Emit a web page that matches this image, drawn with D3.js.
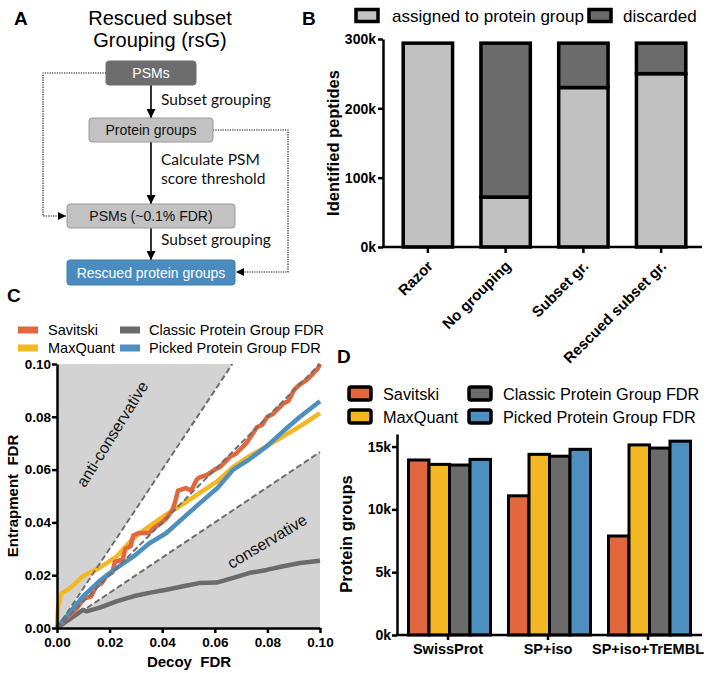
<!DOCTYPE html>
<html><head><meta charset="utf-8">
<script src="https://cdn.jsdelivr.net/npm/d3@7"></script>
<style>
html,body{margin:0;padding:0;background:#fff;}
svg{display:block;}
text{font-family:"Liberation Sans",Arial,sans-serif;}
</style></head><body>
<svg id="fig" width="714" height="673"></svg>
<script>
// ---------- DATA ----------
// Panel A (flowchart)
const flowBoxes = ["PSMs", "Protein groups", "PSMs (~0.1% FDR)", "Rescued protein groups"];
const flowSteps = [["Subset grouping"], ["Calculate PSM", "score threshold"], ["Subset grouping"]];

// Panel B
const bCategories = ["Razor", "No grouping", "Subset gr.", "Rescued subset gr."];
const bAssigned = [294, 72, 230, 250];      // thousands
const bDiscarded = [0, 222, 64, 44];        // thousands
const bTicks = [0, 100, 200, 300];
const bLegend = ["assigned to protein group", "discarded"];

// Panel C (decoy FDR, entrapment FDR)
const cSeries = ["Savitski", "MaxQuant", "Classic Protein Group FDR", "Picked Protein Group FDR"];
const savitski = [[0,0],[0.004,0.004],[0.008,0.008],[0.01,0.011],[0.013,0.012],[0.015,0.016],[0.017,0.017],[0.019,0.02],[0.021,0.021],[0.022,0.025],[0.025,0.026],[0.026,0.03],[0.028,0.031],[0.029,0.035],[0.031,0.036],[0.035,0.036],[0.037,0.038],[0.04,0.04],[0.042,0.042],[0.044,0.045],[0.045,0.048],[0.046,0.052],[0.049,0.053],[0.051,0.052],[0.053,0.056],[0.054,0.057],[0.057,0.058],[0.06,0.06],[0.062,0.061],[0.064,0.063],[0.066,0.065],[0.068,0.066],[0.07,0.068],[0.072,0.07],[0.074,0.073],[0.076,0.076],[0.078,0.077],[0.08,0.08],[0.082,0.081],[0.084,0.083],[0.086,0.085],[0.088,0.086],[0.09,0.09],[0.092,0.092],[0.095,0.094],[0.097,0.096],[0.099,0.098],[0.1,0.1]];
const maxquant = [[0,0],[0.0004,0.008],[0.0016,0.013],[0.0048,0.015],[0.0099,0.0196],[0.016,0.0227],[0.0226,0.027],[0.029,0.034],[0.035,0.0385],[0.0416,0.043],[0.048,0.047],[0.054,0.051],[0.061,0.0556],[0.067,0.061],[0.073,0.065],[0.0797,0.0688],[0.086,0.0726],[0.0924,0.0764],[0.1,0.0814]];
const classic = [[0,0],[0.0099,0.0069],[0.0112,0.0063],[0.016,0.0076],[0.0226,0.0101],[0.029,0.012],[0.035,0.0133],[0.0416,0.0145],[0.048,0.0158],[0.054,0.017],[0.0607,0.0172],[0.067,0.019],[0.073,0.0208],[0.0797,0.022],[0.086,0.0234],[0.0924,0.0246],[0.1,0.0255]];
const picked = [[0,0],[0.0099,0.012],[0.016,0.0177],[0.0226,0.0227],[0.029,0.027],[0.035,0.032],[0.0416,0.036],[0.048,0.0417],[0.054,0.047],[0.061,0.053],[0.067,0.06],[0.073,0.0638],[0.0797,0.0688],[0.086,0.0745],[0.0924,0.080],[0.1,0.0859]];
const cTicks = [0, 0.02, 0.04, 0.06, 0.08, 0.10];
const refSlopes = [1.5, 1, 1/1.5];

// Panel D (thousands of protein groups)
const dGroups = ["SwissProt", "SP+iso", "SP+iso+TrEMBL"];
const dSavitski = [14.05, 11.2, 8.0];
const dMaxQuant = [13.7, 14.5, 15.25];
const dClassic = [13.65, 14.35, 15.0];
const dPicked = [14.1, 14.9, 15.55];
const dTicks = [0, 5, 10, 15];

// ---------- STYLE ----------
const SANS = "'Liberation Sans',Arial,sans-serif";
const COL = {sav:"#e2673e", mq:"#f3b723", cls:"#6b6b6b", pick:"#4d8fbe"};
const svg = d3.select("#fig");
svg.append("rect").attr("width",714).attr("height",673).attr("fill","#fff");
const BOLD = 700;

function panelLabel(t,x,y){ svg.append("text").attr("x",x).attr("y",y).attr("font-size",19).attr("font-weight",BOLD).style("font-family",SANS).text(t); }

// ================= PANEL A =================
(function(){
  panelLabel("A", 14, 25);
  const g = svg.append("g");
  g.append("text").attr("x",160).attr("y",25).attr("text-anchor","middle").attr("font-size",20).style("font-family",SANS).text("Rescued subset");
  g.append("text").attr("x",160).attr("y",46.5).attr("text-anchor","middle").attr("font-size",20).style("font-family",SANS).text("Grouping (rsG)");

  const boxes = [
    {x0:106,x1:196,y0:61,y1:85,fill:"#6d6d6d",stroke:"#6d6d6d",tc:"#fff"},
    {x0:89,x1:213,y0:118,y1:142,fill:"#c2c2c2",stroke:"#9a9a9a",tc:"#111"},
    {x0:67,x1:235,y0:204,y1:228,fill:"#c2c2c2",stroke:"#9a9a9a",tc:"#111"},
    {x0:67,x1:235,y0:260,y1:285,fill:"#4a8cbf",stroke:"#3f7eae",tc:"#fff"}
  ];
  const defs = svg.append("defs");
  defs.append("marker").attr("id","ah").attr("viewBox","0 0 10 10").attr("refX",10).attr("refY",5)
    .attr("markerWidth",9).attr("markerHeight",9).attr("markerUnits","userSpaceOnUse").attr("orient","auto")
    .append("path").attr("d","M0,0L10,5L0,10Z").attr("fill","#000");
  defs.append("marker").attr("id","ahs").attr("viewBox","0 0 10 10").attr("refX",10).attr("refY",5)
    .attr("markerWidth",8).attr("markerHeight",8).attr("markerUnits","userSpaceOnUse").attr("orient","auto")
    .append("path").attr("d","M0,0L10,5L0,10Z").attr("fill","#000");

  for(let i=0;i<3;i++){
    g.append("line").attr("x1",151).attr("x2",151).attr("y1",boxes[i].y1).attr("y2",boxes[i+1].y0)
      .attr("stroke","#000").attr("stroke-width",1.6).attr("marker-end","url(#ah)");
  }
  const stepY = [[105],[165,184],[245]];
  flowSteps.forEach((lines,i)=>lines.forEach((t,j)=>{
    g.append("text").attr("x",161).attr("y",stepY[i][j]).attr("font-size",15.5)
      .style("font-family","Lato, 'Open Sans', sans-serif").attr("fill","#111").text(t);
  }));
  g.append("path").attr("d","M106,73H43V216H66").attr("fill","none").attr("stroke","#000")
    .attr("stroke-width",1.1).attr("stroke-dasharray","1.2,1.2").attr("marker-end","url(#ahs)");
  g.append("path").attr("d","M213,130H288V272H236").attr("fill","none").attr("stroke","#000")
    .attr("stroke-width",1.1).attr("stroke-dasharray","1.2,1.2").attr("marker-end","url(#ahs)");

  boxes.forEach((b,i)=>{
    g.append("rect").attr("x",b.x0).attr("y",b.y0).attr("width",b.x1-b.x0).attr("height",b.y1-b.y0)
      .attr("rx",3).attr("fill",b.fill).attr("stroke",b.stroke).attr("stroke-width",1);
    g.append("text").attr("x",(b.x0+b.x1)/2).attr("y",(b.y0+b.y1)/2+5).attr("text-anchor","middle")
      .attr("font-size",14).attr("fill",b.tc).style("font-family",SANS).text(flowBoxes[i]);
  });
})();

// ================= PANEL B =================
(function(){
  panelLabel("B", 302, 25);
  const g = svg.append("g");
  const x = d3.scaleBand().domain(bCategories).range([389,700]).paddingInner(0.32).paddingOuter(0.16);
  const y = d3.scaleLinear().domain([0,300]).range([247,39]);
  bCategories.forEach((c,i)=>{
    const a = bAssigned[i], d = bDiscarded[i];
    g.append("rect").attr("x",x(c)+1.75).attr("width",x.bandwidth()-3.5)
      .attr("y",y(a)).attr("height",y(0)-y(a)).attr("fill","#c1c1c1").attr("stroke","#000").attr("stroke-width",3.5);
    if(d>0) g.append("rect").attr("x",x(c)+1.75).attr("width",x.bandwidth()-3.5)
      .attr("y",y(a+d)).attr("height",y(a)-y(a+d)).attr("fill","#6b6b6b").attr("stroke","#000").attr("stroke-width",3.5);
  });
  const ya = g.append("g").attr("transform","translate(383,0)")
    .call(d3.axisLeft(y).tickValues(bTicks).tickFormat(d=>d+"k").tickSize(5).tickSizeOuter(0));
  ya.select(".domain").attr("stroke-width",2.5);
  ya.selectAll(".tick line").attr("stroke-width",2.5);
  ya.selectAll("text").attr("font-size",14).attr("font-weight",BOLD).attr("fill","#000").attr("x",-7).attr("dy","0.35em")
    .style("font-family",SANS);
  const xa = g.append("g").attr("transform","translate(0,247)")
    .call(d3.axisBottom(x).tickSize(6).tickSizeOuter(0));
  xa.select(".domain").remove();
  g.append("line").attr("x1",382).attr("x2",702).attr("y1",247).attr("y2",247).attr("stroke","#000").attr("stroke-width",2.5);
  xa.selectAll(".tick line").attr("stroke-width",2.5);
  xa.selectAll("text").attr("font-size",15).attr("font-weight",BOLD).attr("fill","#000")
    .style("font-family",SANS)
    .attr("text-anchor","end").attr("dy",0).attr("y",0)
    .attr("transform","translate(6,20) rotate(-45)");
  g.append("text").attr("transform","translate(339,143) rotate(-90)").attr("text-anchor","middle")
    .attr("font-size",16.5).attr("font-weight",BOLD).style("font-family",SANS).text("Identified peptides");
  const lx = [356, 589], lt = [392, 623], lc = ["#c1c1c1","#6b6b6b"];
  bLegend.forEach((t,i)=>{
    g.append("rect").attr("x",lx[i]).attr("y",9.5).attr("width",22).attr("height",12).attr("fill",lc[i]).attr("stroke","#000").attr("stroke-width",3.5);
    g.append("text").attr("x",lt[i]).attr("y",21.5).attr("font-size",17).style("font-family",SANS).text(t);
  });
})();

// ================= PANEL C =================
(function(){
  panelLabel("C", 7, 302);
  const g = svg.append("g");
  const x = d3.scaleLinear().domain([0,0.1]).range([57,320]);
  const y = d3.scaleLinear().domain([0,0.1]).range([628,364]);
  g.append("rect").attr("x",x(0)).attr("y",y(0.1)).attr("width",x(0.1)-x(0)).attr("height",y(0)-y(0.1)).attr("fill","#d3d3d3");
  const wedge = [[0,0],[0.1/refSlopes[0],0.1],[0.1,0.1],[0.1,0.1*refSlopes[2]]];
  g.append("path").attr("d",d3.line().x(d=>x(d[0])).y(d=>y(d[1]))(wedge)+"Z").attr("fill","#fff");
  const line = d3.line().x(d=>x(d[0])).y(d=>y(d[1]));
  const series = [[classic,COL.cls],[maxquant,COL.mq],[savitski,COL.sav],[picked,COL.pick]];
  series.forEach(([data,c])=>{
    g.append("path").attr("d",line(data)).attr("fill","none").attr("stroke",c).attr("stroke-width",4.5).attr("stroke-linejoin","round");
  });
  refSlopes.forEach(s=>{
    const xe = Math.min(0.1, 0.1/s);
    g.append("line").attr("x1",x(0)).attr("y1",y(0)).attr("x2",x(xe)).attr("y2",y(xe*s))
      .attr("stroke","#6e6e6e").attr("stroke-width",2).attr("stroke-dasharray","6,3");
  });
  g.append("text").attr("transform","translate(117,437) rotate(-58)").attr("text-anchor","middle")
    .attr("font-size",16).attr("fill","#111").style("font-family",SANS).text("anti-conservative");
  g.append("text").attr("transform","translate(270,546) rotate(-31)").attr("text-anchor","middle")
    .attr("font-size",16).attr("fill","#111").style("font-family",SANS).text("conservative");
  const ya = g.append("g").attr("transform","translate(57,0)")
    .call(d3.axisLeft(y).tickValues(cTicks).tickFormat(d3.format(".2f")).tickSize(5).tickSizeOuter(0));
  const xa = g.append("g").attr("transform","translate(0,628)")
    .call(d3.axisBottom(x).tickValues(cTicks).tickFormat(d3.format(".2f")).tickSize(5).tickSizeOuter(0));
  [ya,xa].forEach(a=>{
    a.select(".domain").attr("stroke-width",2.5);
    a.selectAll(".tick line").attr("stroke-width",2.5);
    a.selectAll("text").attr("font-size",13.5).attr("font-weight",BOLD).attr("fill","#000")
      .style("font-family",SANS);
  });
  ya.selectAll("text").attr("x",-6);
  xa.selectAll("text").attr("y",9);
  g.append("text").attr("transform","translate(18,496) rotate(-90)").attr("text-anchor","middle")
    .attr("font-size",15).attr("font-weight",BOLD).style("font-family",SANS).style("white-space","pre").text("Entrapment  FDR");
  g.append("text").attr("x",189).attr("y",667).attr("text-anchor","middle")
    .attr("font-size",15).attr("font-weight",BOLD).style("font-family",SANS).style("white-space","pre").text("Decoy  FDR");
  const cols = [COL.sav, COL.mq, COL.cls, COL.pick];
  const pos = [[18,48,330],[18,48,348],[120,149,330],[120,149,348]];
  cSeries.forEach((t,i)=>{
    const [sx,tx,yy] = pos[i];
    g.append("rect").attr("x",sx).attr("y",yy-3.5).attr("width",20).attr("height",7).attr("fill",cols[i]);
    g.append("text").attr("x",tx).attr("y",yy+5).attr("font-size",14.5).style("font-family",SANS).text(t);
  });
})();

// ================= PANEL D =================
(function(){
  panelLabel("D", 337, 363);
  const g = svg.append("g");
  const x0 = d3.scaleBand().domain(dGroups).range([398,698]).paddingInner(0.18).paddingOuter(0.09);
  const x1 = d3.scaleBand().domain(cSeries).range([0,x0.bandwidth()]);
  const y = d3.scaleLinear().domain([0,16]).range([635,434]);
  const vals = [dSavitski, dMaxQuant, dClassic, dPicked];
  const cols = [COL.sav, COL.mq, COL.cls, COL.pick];
  dGroups.forEach((grp,gi)=>{
    cSeries.forEach((s,si)=>{
      const v = vals[si][gi];
      g.append("rect").attr("x",x0(grp)+x1(s)+1.5).attr("width",x1.bandwidth()).attr("y",y(v)+1.5)
        .attr("height",y(0)-y(v)-1.5).attr("fill",cols[si]).attr("stroke","#000").attr("stroke-width",3);
    });
  });
  const ya = g.append("g").attr("transform","translate(397,0)")
    .call(d3.axisLeft(y).tickValues(dTicks).tickFormat(d=>d+"k").tickSize(5).tickSizeOuter(0));
  ya.select(".domain").attr("stroke-width",2.5);
  ya.selectAll(".tick line").attr("stroke-width",2.5);
  ya.selectAll("text").attr("font-size",14).attr("font-weight",BOLD).attr("fill","#000").attr("x",-6)
    .style("font-family",SANS);
  const xa = g.append("g").attr("transform","translate(0,635)")
    .call(d3.axisBottom(x0).tickSize(5).tickSizeOuter(0));
  xa.select(".domain").remove();
  g.append("line").attr("x1",396).attr("x2",702).attr("y1",635).attr("y2",635).attr("stroke","#000").attr("stroke-width",2.5);
  xa.selectAll(".tick line").attr("stroke-width",2.5);
  xa.selectAll("text").attr("font-size",14.5).attr("font-weight",BOLD).attr("fill","#000").attr("y",9)
    .style("font-family",SANS);
  g.append("text").attr("transform","translate(352,534) rotate(-90)").attr("text-anchor","middle")
    .attr("font-size",16.5).attr("font-weight",BOLD).style("font-family",SANS).text("Protein groups");
  const pos = [[349,383,393.5],[349,383,416.5],[469,503,393.5],[469,503,416.5]];
  cSeries.forEach((t,i)=>{
    const [sx,tx,yy] = pos[i];
    g.append("rect").attr("x",sx).attr("y",yy-6.5).attr("width",22).attr("height",13).attr("fill",cols[i]).attr("stroke","#000").attr("stroke-width",3.5).attr("rx",2);
    g.append("text").attr("x",tx).attr("y",yy+6).attr("font-size",16.3).style("font-family",SANS).text(t);
  });
})();
</script>
</body></html>
